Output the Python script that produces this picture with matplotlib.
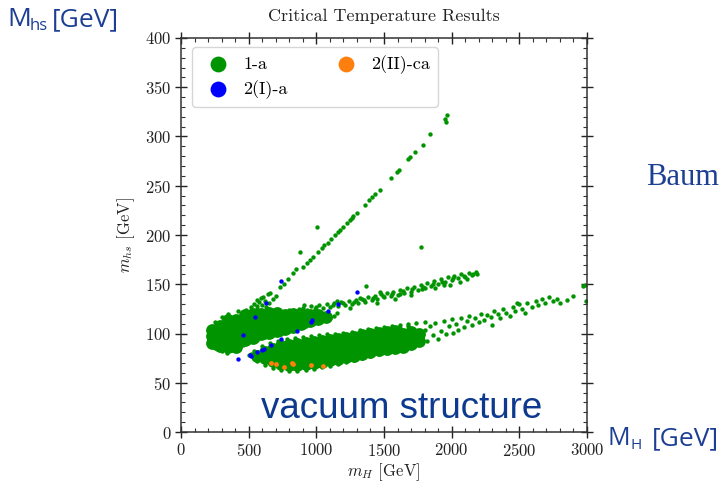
import matplotlib
matplotlib.use("Agg")
import matplotlib.pyplot as plt
from matplotlib.ticker import MultipleLocator

# ---------------- data ----------------
title = "Critical Temperature Results"
x_label = r"$m_H$ [GeV]"
y_label = r"$m_{hs}$ [GeV]"
series_names = ["1-a", "2(I)-a", "2(II)-ca"]

# densely filled parts of class 1-a (mH, mhs) in GeV
green_dense = [
    (230, 90), (230, 97), (230, 104),
    (290, 87), (290, 94), (290, 101), (290, 108),
    (350, 86), (350, 93), (350, 100), (350, 107), (350, 114),
    (410, 86), (410, 93), (410, 100), (410, 107), (410, 114),
    (470, 93), (470, 100), (470, 107), (470, 114), (470, 119),
    (530, 95), (530, 102), (530, 109), (530, 116), (530, 120),
    (590, 99), (590, 106), (590, 113), (590, 120),
    (650, 101), (650, 108), (650, 115), (650, 121),
    (710, 103), (710, 110), (710, 117), (710, 121),
    (770, 105), (770, 112), (770, 119),
    (830, 107), (830, 114), (830, 120),
    (890, 110), (890, 116), (890, 120),
    (950, 113), (950, 119),
    (1010, 115), (1010, 119),
    (1070, 117),
    (560, 77),
    (620, 75), (620, 81),
    (680, 72), (680, 79), (680, 84),
    (740, 69), (740, 76), (740, 83), (740, 87),
    (800, 68), (800, 75), (800, 82), (800, 88),
    (860, 68), (860, 75), (860, 82), (860, 89),
    (920, 69), (920, 76), (920, 83), (920, 90),
    (980, 70), (980, 77), (980, 84), (980, 91),
    (1040, 71), (1040, 78), (1040, 85), (1040, 92),
    (1100, 73), (1100, 80), (1100, 87), (1100, 93),
    (1160, 74), (1160, 81), (1160, 88), (1160, 94),
    (1220, 76), (1220, 83), (1220, 90), (1220, 95),
    (1280, 77), (1280, 84), (1280, 91), (1280, 96),
    (1340, 79), (1340, 86), (1340, 93), (1340, 98),
    (1400, 81), (1400, 88), (1400, 95), (1400, 99),
    (1460, 83), (1460, 90), (1460, 97), (1460, 101),
    (1520, 84), (1520, 91), (1520, 98), (1520, 102),
    (1580, 85), (1580, 92), (1580, 99), (1580, 103),
    (1640, 86), (1640, 93), (1640, 100),
    (1700, 89), (1700, 96), (1700, 102),
    (1760, 92), (1760, 99),
]

# individual 1-a points (mH, mhs) in GeV
green_points = [
    # steep diagonal branch
    (520, 127), (540, 130), (560, 128), (580, 132), (600, 129), (620, 133),
    (650, 131), (680, 135), (700, 138), (560, 134), (590, 136), (630, 127),
    (606, 137), (640, 140), (658, 141), (731, 147), (760, 150),
    (790, 155), (828, 161), (850, 165), (880, 183), (900, 168), (931, 172),
    (950, 175), (975, 178), (1005, 208), (1010, 183), (1040, 187),
    (1060, 190), (1086, 192), (1110, 196), (1140, 200), (1160, 203),
    (1175, 205), (1200, 208), (1230, 212), (1250, 215), (1264, 217),
    (1270, 219), (1300, 222), (1360, 230), (1390, 236), (1411, 239),
    (1430, 242), (1470, 246), (1550, 258), (1596, 264), (1610, 266),
    (1680, 277), (1692, 279), (1730, 284), (1788, 291), (1840, 303),
    (1950, 318), (1965, 322), (1955, 315), (1773, 188), (1367, 148),
    # upper band
    (900, 126), (930, 124), (960, 128), (990, 125), (1020, 129), (1050, 126),
    (1080, 130), (1100, 127), (1130, 131), (1160, 128), (1180, 132),
    (1210, 129), (1240, 133), (1260, 130), (1290, 134), (1310, 131),
    (1340, 135), (1360, 132), (1380, 137), (1410, 134), (1430, 138),
    (1450, 135), (1480, 140), (1500, 137), (1520, 141), (1550, 138),
    (1570, 142), (1600, 139), (1620, 144), (1650, 141), (1670, 146),
    (1700, 142), (1720, 147), (1750, 144), (1770, 149), (1800, 146),
    (1820, 151), (1850, 148), (1870, 153), (1900, 150), (1920, 155),
    (1950, 152), (1970, 157), (2000, 154), (2020, 158), (2050, 156),
    (2070, 160), (2100, 157), (2130, 161), (2150, 159), (2180, 162),
    (2190, 160), (2060, 152), (1880, 146), (1700, 139), (1450, 131),
    (1250, 126), (1580, 135), (1990, 149), (870, 125), (910, 129),
    (1000, 127), (1120, 129), (1200, 131), (1280, 132), (1350, 134),
    (1420, 136), (1490, 138), (1560, 140), (1640, 143), (1710, 145),
    (1790, 147), (1860, 150), (1930, 152), (2010, 156), (2090, 158),
    (2160, 160), (1150, 133), (1320, 136), (1470, 142), (1620, 140),
    (1780, 145), (1940, 149), (2110, 155),
    # lower band tail
    (1780, 95), (1800, 104), (1820, 92), (1840, 108), (1860, 98),
    (1880, 111), (1900, 94), (1920, 103), (1940, 113), (1960, 99),
    (1980, 108), (2000, 115), (2010, 101), (2030, 110), (2050, 104),
    (2070, 116), (2090, 107), (2110, 113), (2130, 118), (2150, 109),
    (2170, 116), (2200, 112), (2220, 120), (2240, 114), (2260, 119),
    (2290, 117), (2310, 123), (2340, 120), (2360, 116), (2380, 125),
    (2400, 121), (2430, 118), (2450, 127), (2470, 123), (2500, 130),
    (2520, 125), (2540, 121), (2560, 131), (2590, 127), (2620, 133),
    (2640, 129), (2670, 135), (2690, 131), (2720, 137), (2750, 133),
    (2780, 135), (2800, 131), (2850, 134), (2900, 138), (2970, 148),
    (2985, 149), (2990, 133), (2480, 131), (2300, 109),
    (1520, 80), (1580, 83), (1640, 85), (1700, 87), (1750, 90),
    (1620, 106), (1680, 108), (1560, 104),
    # ragged edges of the left blob
    (300, 82), (340, 80), (380, 83), (420, 84), (250, 85), (210, 95),
    (205, 100), (215, 88), (460, 88), (500, 91), (560, 93), (620, 96),
    (680, 98), (740, 100), (800, 103), (860, 106), (920, 108), (980, 111),
    (1040, 113), (1100, 116), (1130, 118), (1150, 121),
    (250, 112), (300, 117), (350, 120), (420, 123), (480, 124), (560, 125),
    (640, 125), (720, 124), (800, 124), (880, 123), (960, 122), (1020, 121),
    # ragged edges of the lower wedge
    (560, 72), (620, 68), (680, 65), (740, 63), (800, 62), (860, 62),
    (920, 63), (980, 64), (1040, 66), (1100, 67), (1160, 69), (1220, 71),
    (1280, 73), (1340, 75), (1400, 77), (1460, 79),
    (540, 82), (600, 87), (660, 90), (720, 92), (780, 94), (840, 95),
    (900, 96), (960, 97), (1020, 98), (1080, 99), (1140, 100), (1200, 101),
    (1260, 102), (1320, 104), (1380, 105), (1440, 106), (1500, 107),
    (1560, 108), (1620, 109), (1680, 110), (1740, 111), (1800, 112),
    (500, 78), (520, 79),
]

blue_points = [
    (421, 74), (510, 78), (515, 77), (561, 81), (600, 83), (610, 84),
    (665, 88), (739, 94), (857, 103), (960, 112), (968, 114), (1086, 123),
    (1160, 130), (458, 98), (547, 117), (628, 131), (739, 153), (1300, 142),
]

orange_points = [
    (665, 70), (702, 69), (761, 66), (820, 70), (828, 69), (960, 68), (1050, 67),
]

x_ticks = [0, 500, 1000, 1500, 2000, 2500, 3000]
y_ticks = [0, 50, 100, 150, 200, 250, 300, 350, 400]

green_dense_mh = [p[0] for p in green_dense]
green_dense_mhs = [p[1] for p in green_dense]
green_mh = [p[0] for p in green_points]
green_mhs = [p[1] for p in green_points]
blue_mh = [p[0] for p in blue_points]
blue_mhs = [p[1] for p in blue_points]
orange_mh = [p[0] for p in orange_points]
orange_mhs = [p[1] for p in orange_points]

# ---------------- style ----------------
plt.rcParams.update({
    "font.family": "serif",
    "font.serif": ["cmr10", "DejaVu Serif"],
    "mathtext.fontset": "cm",
    "axes.unicode_minus": False,
    "axes.formatter.use_mathtext": True,
})

W, H = 721, 490
fig = plt.figure(figsize=(W / 100, H / 100), dpi=100)
ax = fig.add_axes([181 / W, 1 - 432 / H, 406 / W, 394 / H])

GREEN = "#009500"
BLUE = "#0000ff"
ORANGE = "#ff7f0e"

ax.scatter(green_dense_mh, green_dense_mhs, s=85, color=GREEN, linewidths=0, zorder=2)
sc1 = ax.scatter(green_mh, green_mhs, s=10, color=GREEN, linewidths=0, zorder=2,
                 label=series_names[0])
sc2 = ax.scatter(blue_mh, blue_mhs, s=10, color=BLUE, linewidths=0, zorder=3,
                 label=series_names[1])
sc3 = ax.scatter(orange_mh, orange_mhs, s=12, color=ORANGE, linewidths=0, zorder=3,
                 label=series_names[2])

ax.set_xlim(0, 3000)
ax.set_ylim(0, 400)
ax.set_xticks(x_ticks)
ax.set_yticks(y_ticks)
ax.xaxis.set_minor_locator(MultipleLocator(100))
ax.yaxis.set_minor_locator(MultipleLocator(10))
ax.tick_params(which="major", direction="inout", length=8, width=1.0,
               top=True, right=True, labelsize=12, colors="#222222", pad=3)
ax.tick_params(which="minor", direction="in", length=3, width=0.8,
               top=True, right=True, colors="#333333")
for sp in ax.spines.values():
    sp.set_color("#333333")
    sp.set_linewidth(1.1)

ax.set_title(title, fontsize=13, color="#222222", pad=12)
ax.set_xlabel(x_label, fontsize=12, color="#222222", labelpad=2)
ax.set_ylabel(y_label, fontsize=12, color="#222222", labelpad=6)

leg = ax.legend(handles=[sc1, sc2, sc3], loc="upper left", ncol=2,
                bbox_to_anchor=(0.027, 0.977), borderaxespad=0, fontsize=13,
                handletextpad=0.4, columnspacing=2.2, scatterpoints=1,
                borderpad=0.45, labelspacing=0.45)
for h in leg.legend_handles:
    h.set_sizes([130])

# ---------------- slide annotations ----------------
ANN = "#1c3f94"

def ftxt(px, py, s, size, family, color=ANN, **kw):
    fig.text(px / W, 1 - py / H, s, fontsize=size, family=family, color=color,
             va="baseline", ha="left", **kw)

ftxt(7, 26, "M", 19, "Open Sans")
ftxt(30, 30, "hs", 12, "Open Sans")
ftxt(52, 26, "[GeV]", 19, "Open Sans")

ftxt(607, 445, "M", 18, "Open Sans")
ftxt(631, 449, "H", 11, "Open Sans")
ftxt(652, 445, "[GeV]", 19, "Open Sans")

ftxt(646, 185, "Baum", 22, "Liberation Serif")

ftxt(261, 418, "vacuum structure", 26.5, "Liberation Sans", color="#0d3a8e")

fig.savefig("out.png", dpi=100)
